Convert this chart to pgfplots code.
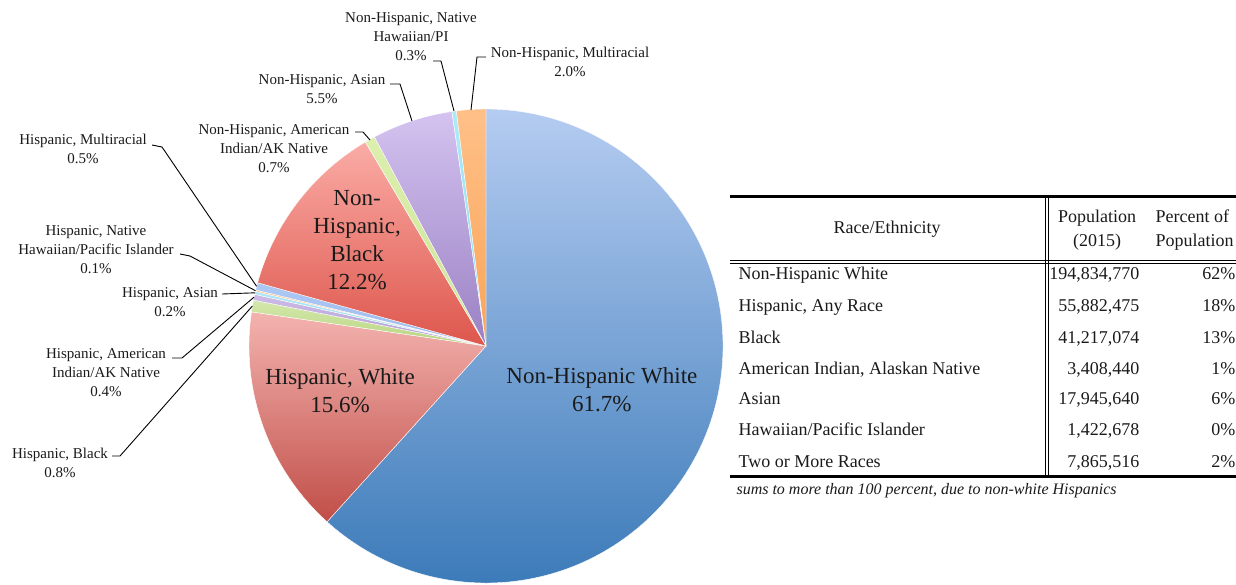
\documentclass[border=0pt]{standalone}
\usepackage{fontspec}
\setmainfont{LiberationSerif}[Extension=.ttf, UprightFont=*-Regular, ItalicFont=*-Italic, BoldFont=*-Bold]
\usepackage{pgfplots}
\pgfplotsset{compat=1.18}
\usepackage{pgfplotstable}

\definecolor{nhwT}{HTML}{B5CCF1}
\definecolor{nhwB}{HTML}{3C7BB9}
\definecolor{hwT}{HTML}{F3B3AF}
\definecolor{hwB}{HTML}{C14E48}
\definecolor{hbT}{HTML}{D4E8AC}
\definecolor{hbB}{HTML}{B8D480}
\definecolor{haiT}{HTML}{CDBBE6}
\definecolor{haiB}{HTML}{B39DD2}
\definecolor{hasT}{HTML}{AEE6F5}
\definecolor{hasB}{HTML}{98DCF0}
\definecolor{hpiT}{HTML}{FDC48F}
\definecolor{hpiB}{HTML}{FBB26E}
\definecolor{hmT}{HTML}{ADC8F4}
\definecolor{hmB}{HTML}{9BBAEE}
\definecolor{nhbT}{HTML}{FAACA6}
\definecolor{nhbB}{HTML}{DD564C}
\definecolor{naiT}{HTML}{DCEFAE}
\definecolor{naiB}{HTML}{CDE596}
\definecolor{nasT}{HTML}{D4C3F0}
\definecolor{nasB}{HTML}{9A80C3}
\definecolor{npiT}{HTML}{ACEAF9}
\definecolor{npiB}{HTML}{8FDDF2}
\definecolor{nmT}{HTML}{FFC088}
\definecolor{nmB}{HTML}{F9A457}
\definecolor{txt}{HTML}{1A1A1A}

% pie shares (percent), clockwise from 12 o'clock
\pgfplotstableread{
pct top bot
61.7 nhwT nhwB
15.6 hwT hwB
0.8 hbT hbB
0.4 haiT haiB
0.2 hasT hasB
0.1 hpiT hpiB
0.5 hmT hmB
12.2 nhbT nhbB
0.7 naiT naiB
5.5 nasT nasB
0.3 npiT npiB
2.0 nmT nmB
}\piedata

\begin{document}
\begin{tikzpicture}[x=1pt,y=-1pt]
\useasboundingbox (0,0) rectangle (1236,584);
\clip (0,0) rectangle (1236,584);

\begin{axis}[at={(486pt,-346pt)}, anchor=origin, x=237pt, y=237pt,
  xmin=-1, xmax=1, ymin=-1, ymax=1, hide axis, clip=false]
  \pgfplotstablegetrowsof{\piedata}
  \pgfmathtruncatemacro\N{\pgfplotsretval-1}
  \def\cum{0}
  \pgfplotsforeachungrouped \i in {0,...,\N}{
    \pgfplotstablegetelem{\i}{pct}\of\piedata \let\p\pgfplotsretval
    \pgfplotstablegetelem{\i}{top}\of\piedata \let\tc\pgfplotsretval
    \pgfplotstablegetelem{\i}{bot}\of\piedata \let\bc\pgfplotsretval
    \pgfmathsetmacro\sa{90-3.6*\cum}
    \pgfmathsetmacro\ea{90-3.6*(\cum+\p)}
    \pgfmathsetmacro\cum{\cum+\p}
    \edef\slice{\noexpand\shadedraw[top color=\tc, bottom color=\bc, draw=white, line width=0.4pt]
      (axis cs:0,0) -- ++(\sa:237pt) arc[start angle=\sa, end angle=\ea, radius=237pt] -- cycle;}
    \slice
  }
  \begin{scope}[font=\fontsize{23}{28}\selectfont, text=txt]
  \node[align=center] at (axis cs:0.489,-0.186) {Non-Hispanic White\\61.7\%};
  \node[align=center] at (axis cs:-0.616,-0.19) {Hispanic, White\\15.6\%};
  \node[align=center] at (axis cs:-0.544,0.447) {Non-\\Hispanic,\\Black\\12.2\%};
  \end{scope}
\end{axis}

% outside labels with leader lines
\begin{scope}[font=\fontsize{15}{19}\selectfont, text=txt]
\node[align=center] at (411,37) {Non-Hispanic, Native\\Hawaiian/PI\\0.3\%};
\node[align=center] at (570,61.5) {Non-Hispanic, Multiracial\\2.0\%};
\node[align=center] at (322,89.5) {Non-Hispanic, Asian\\5.5\%};
\node[align=center] at (274,149) {Non-Hispanic, American\\Indian/AK Native\\0.7\%};
\node[align=center] at (83,148.5) {Hispanic, Multiracial\\0.5\%};
\node[align=center] at (96,250) {Hispanic, Native\\Hawaiian/Pacific Islander\\0.1\%};
\node[align=center] at (170,302.5) {Hispanic, Asian\\0.2\%};
\node[align=center] at (106,373) {Hispanic, American\\Indian/AK Native\\0.4\%};
\node[align=center] at (60,462.5) {Hispanic, Black\\0.8\%};
\end{scope}
\begin{scope}[line width=0.9pt, black]
\draw (433,61) -- (441,61) -- (454,111);
\draw (486,57) -- (477,57) -- (471,110);
\draw (390,84) -- (400,84) -- (412,121);
\draw (355,132) -- (363,132) -- (370,140);
\draw (152,145) -- (162,147) -- (256.6,286.3);
\draw (180,254) -- (190,256) -- (255.5,290.7);
\draw (222,294) -- (255,292.8);
\draw (172,358) -- (182,358) -- (254.1,297.1);
\draw (112,456) -- (120,456) -- (252.4,306);
\end{scope}

% table
\draw[line width=2.5pt] (730,196.5) -- (1240,196.5);
\draw[line width=2.5pt] (730,476.5) -- (1240,476.5);
\draw[line width=1pt] (730,260.5) -- (1240,260.5);
\draw[line width=1pt] (730,263.5) -- (1240,263.5);
\draw[line width=1pt] (1045.5,197) -- (1045.5,476);
\draw[line width=1pt] (1048.5,197) -- (1048.5,476);
\begin{scope}[font=\fontsize{18}{24}\selectfont, text=txt]
\node at (887,229) {Race/Ethnicity};
\node[align=center] at (1097,230) {Population\\(2015)};
\node[align=left, anchor=west] at (1152,230) {Percent of\\Population};
\node[anchor=mid west] at (735,277) {Non-Hispanic White};
\node[anchor=mid west] at (735,309) {Hispanic, Any Race};
\node[anchor=mid west] at (735,341) {Black};
\node[anchor=mid west] at (735,372) {American Indian, Alaskan Native};
\node[anchor=mid west] at (735,402) {Asian};
\node[anchor=mid west] at (735,433) {Hawaiian/Pacific Islander};
\node[anchor=mid west] at (735,465) {Two or More Races};
\node[anchor=mid east] at (1143,277) {194,834,770};
\node[anchor=mid east] at (1143,309) {55,882,475};
\node[anchor=mid east] at (1143,341) {41,217,074};
\node[anchor=mid east] at (1143,372) {3,408,440};
\node[anchor=mid east] at (1143,402) {17,945,640};
\node[anchor=mid east] at (1143,433) {1,422,678};
\node[anchor=mid east] at (1143,465) {7,865,516};
\node[anchor=mid east] at (1239,277) {62\%};
\node[anchor=mid east] at (1239,309) {18\%};
\node[anchor=mid east] at (1239,341) {13\%};
\node[anchor=mid east] at (1239,372) {1\%};
\node[anchor=mid east] at (1239,402) {6\%};
\node[anchor=mid east] at (1239,433) {0\%};
\node[anchor=mid east] at (1239,465) {2\%};
\end{scope}
\node[anchor=mid west, font=\fontsize{16}{19}\selectfont\itshape, text=txt] at (733,492) {sums to more than 100 percent, due to non-white Hispanics};
\end{tikzpicture}
\end{document}
